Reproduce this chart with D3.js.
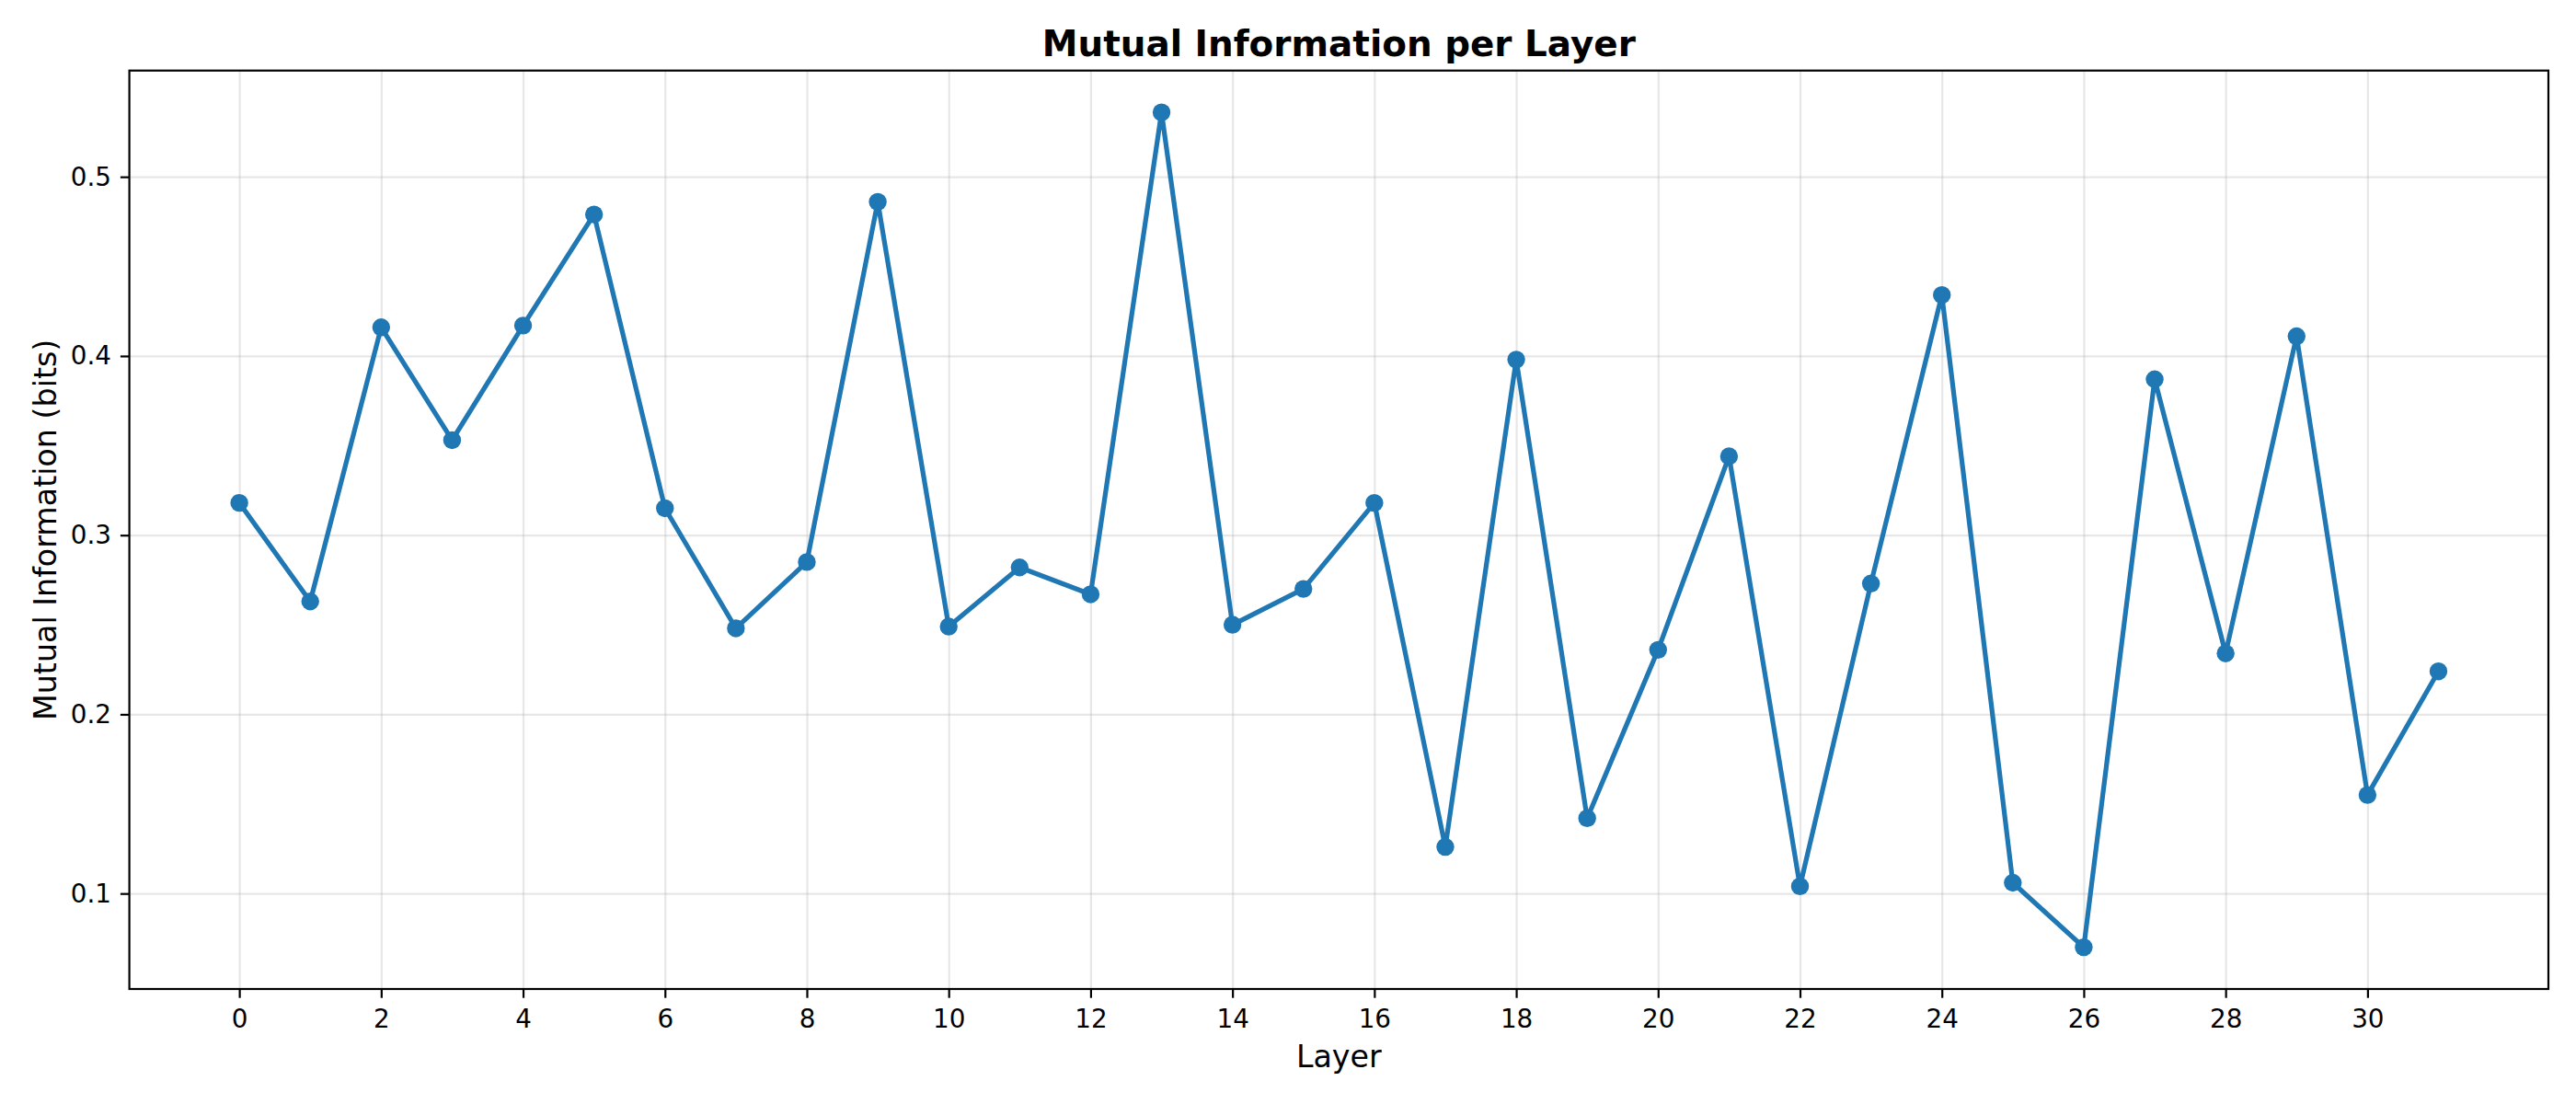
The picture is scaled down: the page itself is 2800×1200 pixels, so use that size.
<!DOCTYPE html>
<html>
<head>
<meta charset="utf-8">
<script src="https://cdn.jsdelivr.net/npm/d3@7"></script>
<style>
  html, body { margin: 0; padding: 0; background: #ffffff; }
  svg { display: block; font-family: "DejaVu Sans", sans-serif; }
</style>
</head>
<body>
<svg id="chart" width="2800" height="1200"></svg>
<script>
// ---- data ----
const layers = [0,1,2,3,4,5,6,7,8,9,10,11,12,13,14,15,16,17,18,19,20,21,22,23,24,25,26,27,28,29,30,31];
const mutualInfo = [0.318,0.263,0.416,0.353,0.417,0.479,0.315,0.248,0.285,0.486,
                    0.249,0.282,0.267,0.536,0.250,0.270,0.318,0.126,0.398,0.142,
                    0.236,0.344,0.104,0.273,0.434,0.106,0.070,0.387,0.234,0.411,
                    0.155,0.224];
const xTicks = [0,2,4,6,8,10,12,14,16,18,20,22,24,26,28,30];
const yTicks = [0.1,0.2,0.3,0.4,0.5];
const titleText = "Mutual Information per Layer";
const xLabelText = "Layer";
const yLabelText = "Mutual Information (bits)";

// ---- layout ----
const W = 2800, H = 1200;
const margin = {left: 140.6, right: 30, top: 76.7, bottom: 125};
const pw = W - margin.left - margin.right;
const ph = H - margin.top - margin.bottom;
const color = "#1f77b4";
const tickLen = 9.7;

const svg = d3.select("#chart");
svg.append("rect").attr("width", W).attr("height", H).attr("fill", "#ffffff");
const g = svg.append("g").attr("transform", `translate(${margin.left},${margin.top})`);

// matplotlib-style 5% margins
const xMin = d3.min(layers), xMax = d3.max(layers);
const xPad = (xMax - xMin) * 0.05;
const yMin = d3.min(mutualInfo), yMax = d3.max(mutualInfo);
const yPad = (yMax - yMin) * 0.05;

const x = d3.scaleLinear().domain([xMin - xPad, xMax + xPad]).range([0, pw]);
const y = d3.scaleLinear().domain([yMin - yPad, yMax + yPad]).range([ph, 0]);

// grid
const gridX = g.append("g").attr("transform", `translate(0,${ph})`)
  .call(d3.axisBottom(x).tickValues(xTicks).tickSize(-ph).tickFormat(""));
const gridY = g.append("g")
  .call(d3.axisLeft(y).tickValues(yTicks).tickSize(-pw).tickFormat(""));
[gridX, gridY].forEach(s => {
  s.select(".domain").remove();
  s.selectAll("line").attr("stroke", "#b0b0b0").attr("stroke-opacity", 0.3).attr("stroke-width", 2.2);
});

// line + markers
const line = d3.line().x((d, i) => x(layers[i])).y(d => y(d));
g.append("path").datum(mutualInfo)
  .attr("d", line).attr("fill", "none").attr("stroke", color)
  .attr("stroke-width", 5.2).attr("stroke-linejoin", "round").attr("stroke-linecap", "square");
g.selectAll("circle.pt").data(mutualInfo).enter().append("circle")
  .attr("class", "pt")
  .attr("cx", (d, i) => x(layers[i])).attr("cy", d => y(d))
  .attr("r", 9.7).attr("fill", color);

// axes
const xAxis = g.append("g").attr("transform", `translate(0,${ph})`)
  .call(d3.axisBottom(x).tickValues(xTicks).tickSizeInner(tickLen).tickSizeOuter(0).tickPadding(12.9).tickFormat(d3.format("d")));
const yAxis = g.append("g")
  .call(d3.axisLeft(y).tickValues(yTicks).tickSizeInner(tickLen).tickSizeOuter(0).tickPadding(9.9).tickFormat(d3.format(".1f")));
[xAxis, yAxis].forEach(s => {
  s.select(".domain").remove();
  s.selectAll("line").attr("stroke", "#000").attr("stroke-width", 2.2);
  s.selectAll("text").attr("fill", "#000").attr("font-size", 27.8)
    .attr("font-family", "DejaVu Sans, sans-serif");
});

// frame
g.append("rect").attr("x", 0).attr("y", 0).attr("width", pw).attr("height", ph)
  .attr("fill", "none").attr("stroke", "#000").attr("stroke-width", 2.2);

// title + labels
svg.append("text").attr("x", margin.left + pw / 2).attr("y", 60.7)
  .attr("text-anchor", "middle").attr("font-size", 38.9).attr("font-weight", "bold")
  .attr("fill", "#000").text(titleText);
svg.append("text").attr("x", margin.left + pw / 2).attr("y", 1160)
  .attr("text-anchor", "middle").attr("font-size", 33.3)
  .attr("fill", "#000").text(xLabelText);
svg.append("text")
  .attr("transform", `translate(60.5,${margin.top + ph / 2}) rotate(-90)`)
  .attr("text-anchor", "middle").attr("font-size", 33.3)
  .attr("fill", "#000").text(yLabelText);
</script>
</body>
</html>
